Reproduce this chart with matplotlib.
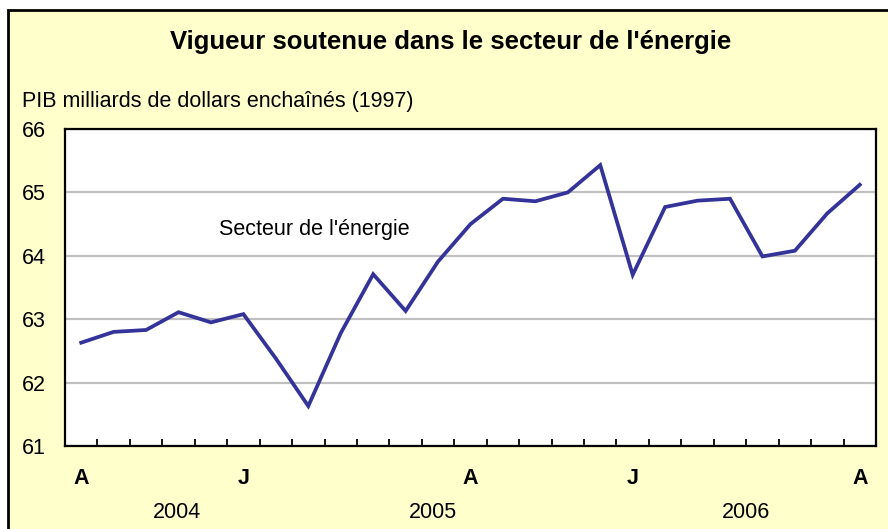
import matplotlib
matplotlib.use("Agg")
import matplotlib.pyplot as plt
from matplotlib.patches import Rectangle
import matplotlib.transforms as mtransforms

plt.rcParams['font.family'] = ['Liberation Sans', 'DejaVu Sans']

# PIB secteur de l'énergie, avril 2004 -> avril 2006
values = [62.63, 62.80, 62.83, 63.11, 62.95, 63.08, 62.38, 61.63, 62.78, 63.71,
          63.13, 63.91, 64.50, 64.90, 64.86, 65.00, 65.43, 63.70, 64.77, 64.87,
          64.90, 63.99, 64.08, 64.67, 65.12]
month_pos = [0, 5, 12, 17, 24]
month_labels = ["A", "J", "A", "J", "A"]
year_pos = [2.96, 10.85, 20.5]
year_labels = ["2004", "2005", "2006"]
yticks = [61, 62, 63, 64, 65, 66]

title = "Vigueur soutenue dans le secteur de l'énergie"
ylabel = "PIB milliards de dollars enchaînés (1997)"
series_name = "Secteur de l'énergie"

bg = "#FFFFCC"
line_col = "#333399"
fs = 15.5

fig = plt.figure(figsize=(8.88, 5.29), dpi=100)
fig.patch.set_facecolor("white")
fig.patches.append(Rectangle((8 / 888, -0.01), 1.0, 1.01 - 10 / 529, transform=fig.transFigure,
                             facecolor=bg, edgecolor="black", lw=2, zorder=-5))

ax = fig.add_axes([65 / 888, 1 - 446 / 529, (876 - 65) / 888, (446 - 129) / 529])
ax.set_facecolor("white")
x = list(range(len(values)))
ax.plot(x, values, color=line_col, lw=2.7, solid_joinstyle="miter", zorder=3)

ax.set_xlim(-0.5, len(values) - 0.5)
ax.set_ylim(61, 66)
ax.set_yticks(yticks)
ax.set_yticklabels([str(v) for v in yticks], fontsize=fs)
ax.tick_params(axis="y", length=0, pad=14)
ax.yaxis.grid(True, color="#C0C0C0", lw=1.6)
ax.set_axisbelow(True)

ax.set_xticks([i + 0.5 for i in range(len(values) - 1)])
ax.set_xticklabels([])
ax.tick_params(axis="x", direction="in", length=5, width=1.3, color="black")

for s in ax.spines.values():
    s.set_color("black")
    s.set_linewidth(1.6)

trans = mtransforms.blended_transform_factory(ax.transData, fig.transFigure)
for p, m in zip(month_pos, month_labels):
    ax.text(p, 1 - 479 / 529, m, transform=trans, ha="center", va="center",
            fontsize=fs, fontweight="bold")
for p, yl in zip(year_pos, year_labels):
    ax.text(p, 1 - 512 / 529, yl, transform=trans, ha="center", va="center", fontsize=fs)

ax.text(7.18, 64.41, series_name, ha="center", va="center", fontsize=fs)

fig.text(451 / 888, 1 - 42 / 529, title, ha="center", va="center",
         fontsize=18.5, fontweight="bold")
fig.text(22 / 888, 1 - 101 / 529, ylabel, ha="left", va="center", fontsize=fs)

fig.savefig("out.png", dpi=100, facecolor=fig.get_facecolor())
